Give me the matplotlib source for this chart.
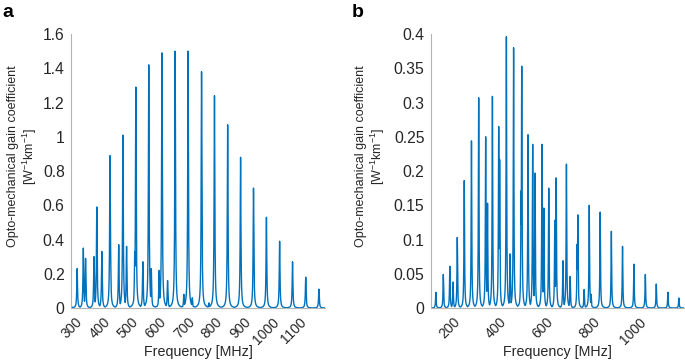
import numpy as np
import matplotlib
matplotlib.use("Agg")
import matplotlib.pyplot as plt
import matplotlib.transforms as mtransforms

plt.rcParams['font.family'] = ['Liberation Sans', 'DejaVu Sans']
plt.rcParams['mathtext.fontset'] = 'custom'
plt.rcParams['mathtext.rm'] = 'Liberation Sans'

# Panel a: resonance peaks (MHz) and gains (W^-1 km^-1)
peaks_a_freq = [247, 272, 294, 302, 332, 342, 360, 389, 391, 420, 435, 448, 477, 481,
                506, 527, 536, 564, 574, 594, 621, 652, 667, 682, 715, 741, 761,
                808, 854, 900, 946, 993, 1039, 1086, 1133]
peaks_a_gain = [0.10, 0.23, 0.35, 0.29, 0.30, 0.59, 0.33, 0.89, 0.36, 0.37, 1.01, 0.36, 0.33, 1.29,
                0.27, 1.42, 0.23, 0.22, 1.49, 0.16, 1.50, 0.08, 1.50, 0.06, 1.38, 0.03, 1.24,
                1.07, 0.88, 0.70, 0.53, 0.39, 0.27, 0.18, 0.11]

# Panel b
peaks_b_freq = [84, 116, 144, 158, 176, 206, 209, 237, 261, 268, 298, 306, 327, 354, 358,
                387, 403, 418, 450, 453, 480, 500, 510, 540, 548, 569, 595, 601, 630,
                645, 661, 691, 694, 721, 743, 751, 790, 838, 886, 935, 984, 1031, 1081, 1128]
peaks_b_gain = [0.023, 0.049, 0.061, 0.038, 0.103, 0.186, 0.02, 0.244, 0.01, 0.307, 0.25, 0.153,
                0.309, 0.265, 0.217, 0.396, 0.079, 0.38, 0.171, 0.353, 0.253, 0.239, 0.197,
                0.239, 0.146, 0.175, 0.128, 0.19, 0.069, 0.21, 0.046, 0.093, 0.136, 0.027,
                0.15, 0.02, 0.14, 0.112, 0.09, 0.064, 0.049, 0.035, 0.023, 0.0146]

linewidth_mhz = 1.5  # half width at half maximum of each Lorentzian resonance

xlim_a = (250, 1155)
xlim_b = (62, 1150)
xticks_a = [300, 400, 500, 600, 700, 800, 900, 1000, 1100]
xticks_b = [200, 400, 600, 800, 1000]
yticks_a = [0, 0.2, 0.4, 0.6, 0.8, 1, 1.2, 1.4, 1.6]
yticks_b = [0, 0.05, 0.1, 0.15, 0.2, 0.25, 0.3, 0.35, 0.4]
ytick_labels_a = ['0', '0.2', '0.4', '0.6', '0.8', '1', '1.2', '1.4', '1.6']
ytick_labels_b = ['0', '0.05', '0.1', '0.15', '0.2', '0.25', '0.3', '0.35', '0.4']


def spectrum(f, centres, gains, g):
    curves = [h * g**2 / ((f - c)**2 + g**2) for c, h in zip(centres, gains)]
    return np.max(np.array(curves), axis=0)


fig = plt.figure(figsize=(6.85, 3.64), dpi=100)
ax_a = fig.add_axes([0.1036, 0.1538, 0.371, 0.7527])
ax_b = fig.add_axes([0.6288, 0.1538, 0.3697, 0.7527])

blue = '#0072BD'
gray = '#b4b4b4'
txt = '#262626'
shift = mtransforms.ScaledTranslation(3 / 72, 0, fig.dpi_scale_trans)

for ax, fr, gn, xl, xt, yt, ytl, ylx in [
        (ax_a, peaks_a_freq, peaks_a_gain, xlim_a, xticks_a, yticks_a, ytick_labels_a, -0.126),
        (ax_b, peaks_b_freq, peaks_b_gain, xlim_b, xticks_b, yticks_b, ytick_labels_b, -0.174)]:
    f = np.linspace(xl[0], xl[1], 40000)
    ax.plot(f, spectrum(f, fr, gn, linewidth_mhz), color=blue, lw=1.0)
    ax.set_xlim(*xl)
    ax.set_ylim(yt[0], yt[-1])
    ax.set_xticks(xt)
    ax.set_xticklabels([str(v) for v in xt], rotation=45, ha='right', va='top',
                       rotation_mode='default')
    for lab in ax.get_xticklabels():
        lab.set_transform(lab.get_transform() + shift)
    ax.set_yticks(yt)
    ax.set_yticklabels(ytl)
    for s in ['top', 'right']:
        ax.spines[s].set_visible(False)
    for s in ['left', 'bottom']:
        ax.spines[s].set_color(gray)
        ax.spines[s].set_linewidth(0.8)
    ax.tick_params(axis='y', length=0, labelsize=11.3, colors=txt, pad=4.5)
    ax.tick_params(axis='x', length=0, labelsize=10.0, colors=txt, pad=5)
    ax.set_xlabel('Frequency [MHz]', fontsize=10.3, color=txt)
    ax.xaxis.set_label_coords(0.5, -0.135)
    ax.set_ylabel('Opto-mechanical gain coefficient\n[W$^{-1}$km$^{-1}$]', fontsize=9.0,
                  color=txt, linespacing=1.12)
    ax.yaxis.set_label_coords(ylx, 0.555)

fig.text(0.004, 0.99, 'a', fontsize=14, fontweight='bold', va='top', ha='left')
fig.text(0.513, 0.99, 'b', fontsize=14, fontweight='bold', va='top', ha='left')

fig.savefig('out.png', dpi=100)
